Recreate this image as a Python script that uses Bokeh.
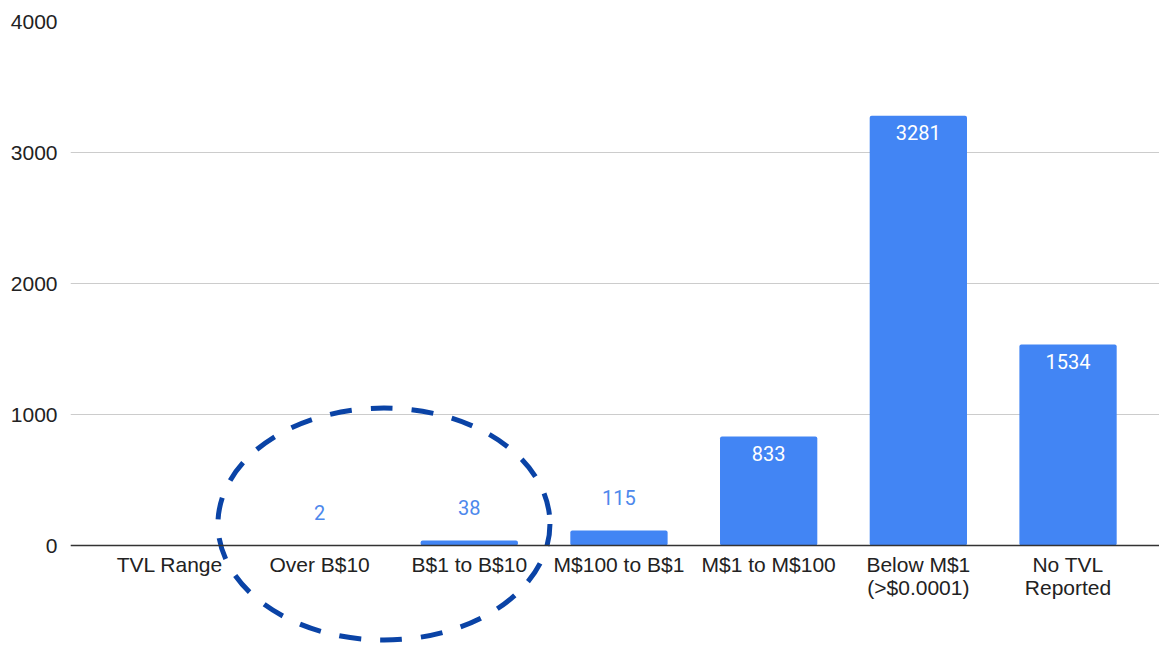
from bokeh.plotting import figure
from bokeh.models import Range1d, FixedTicker, ColumnDataSource
from bokeh.core.properties import value
from bokeh.embed import file_html
from bokeh.resources import INLINE

# Number of protocols per TVL bracket
categories = ["TVL Range", "Over B$10", "B$1 to B$10", "M$100 to B$1",
              "M$1 to M$100", "Below M$1\n(>$0.0001)", "No TVL\nReported"]
counts = [float("nan"), 2, 38, 115, 833, 3281, 1534]
y_ticks = [0, 1000, 2000, 3000, 4000]

BAR_COLOR = "#4285F4"
AXIS_FONT = "Liberation Sans"
LABEL_FONT = "Roboto"

idx = list(range(len(categories)))

p = figure(width=1159, height=648,
           x_range=Range1d(-0.664, 6.611), y_range=Range1d(-786, 4000),
           output_backend="svg", toolbar_location=None,
           min_border_left=70, min_border_right=0,
           min_border_top=21, min_border_bottom=0,
           outline_line_color=None, background_fill_color="white",
           border_fill_color="white")

bars = ColumnDataSource(dict(x=idx, top=counts))
p.vbar(x="x", top="top", width=0.65, source=bars, fill_color=BAR_COLOR,
       line_color=None, border_radius=2)

# value labels: white inside the tall bars, blue above the short ones
inside = [(i, c) for i, c in zip(idx, counts) if c == c and c >= 500]
outside = [(i, c) for i, c in zip(idx, counts) if c == c and c < 500]
src_in = ColumnDataSource(dict(x=[i for i, _ in inside], y=[c for _, c in inside],
                               t=[str(int(c)) for _, c in inside]))
src_out = ColumnDataSource(dict(x=[i for i, _ in outside], y=[c for _, c in outside],
                                t=[str(int(c)) for _, c in outside]))
p.text(x="x", y="y", text="t", source=src_in, text_color="white",
       text_font=value(LABEL_FONT), text_font_size="20px",
       text_align="center", text_baseline="middle", y_offset=17)
p.text(x="x", y="y", text="t", source=src_out, text_color="#4d88ec",
       text_font=value(LABEL_FONT), text_font_size="20px",
       text_align="center", text_baseline="middle", y_offset=-33)

# dashed highlight around the two largest brackets
p.ellipse(x=[1.43], y=[164], width=[2.218], height=[1771],
          fill_color=None, line_color="#0a43a6", line_width=5,
          line_dash="22 19")

# axes
p.yaxis.ticker = FixedTicker(ticks=y_ticks)
p.yaxis.axis_line_color = None
p.yaxis.major_tick_line_color = None
p.yaxis.major_tick_out = 0
p.yaxis.minor_tick_line_color = None
p.yaxis.minor_tick_out = 0
p.yaxis.major_label_standoff = 13
p.yaxis.major_label_text_font = AXIS_FONT
p.yaxis.major_label_text_font_size = "21px"
p.yaxis.major_label_text_color = "#222222"

p.xaxis.ticker = FixedTicker(ticks=idx)
p.xaxis.major_label_overrides = {i: c for i, c in zip(idx, categories)}
p.xaxis.fixed_location = 0
p.xaxis.axis_line_color = "#333333"
p.xaxis.axis_line_width = 1.3
p.xaxis.major_tick_line_color = None
p.xaxis.major_tick_out = 0
p.xaxis.minor_tick_line_color = None
p.xaxis.minor_tick_out = 0
p.xaxis.major_label_standoff = 7
p.xaxis.major_label_text_font = AXIS_FONT
p.xaxis.major_label_text_font_size = "21px"
p.xaxis.major_label_text_color = "#222222"
p.xaxis.major_label_text_line_height = 1.0

p.xgrid.visible = False
p.ygrid.grid_line_color = "#cccccc"
p.ygrid.grid_line_width = 1

open("out.html", "w").write(file_html(p, INLINE))
